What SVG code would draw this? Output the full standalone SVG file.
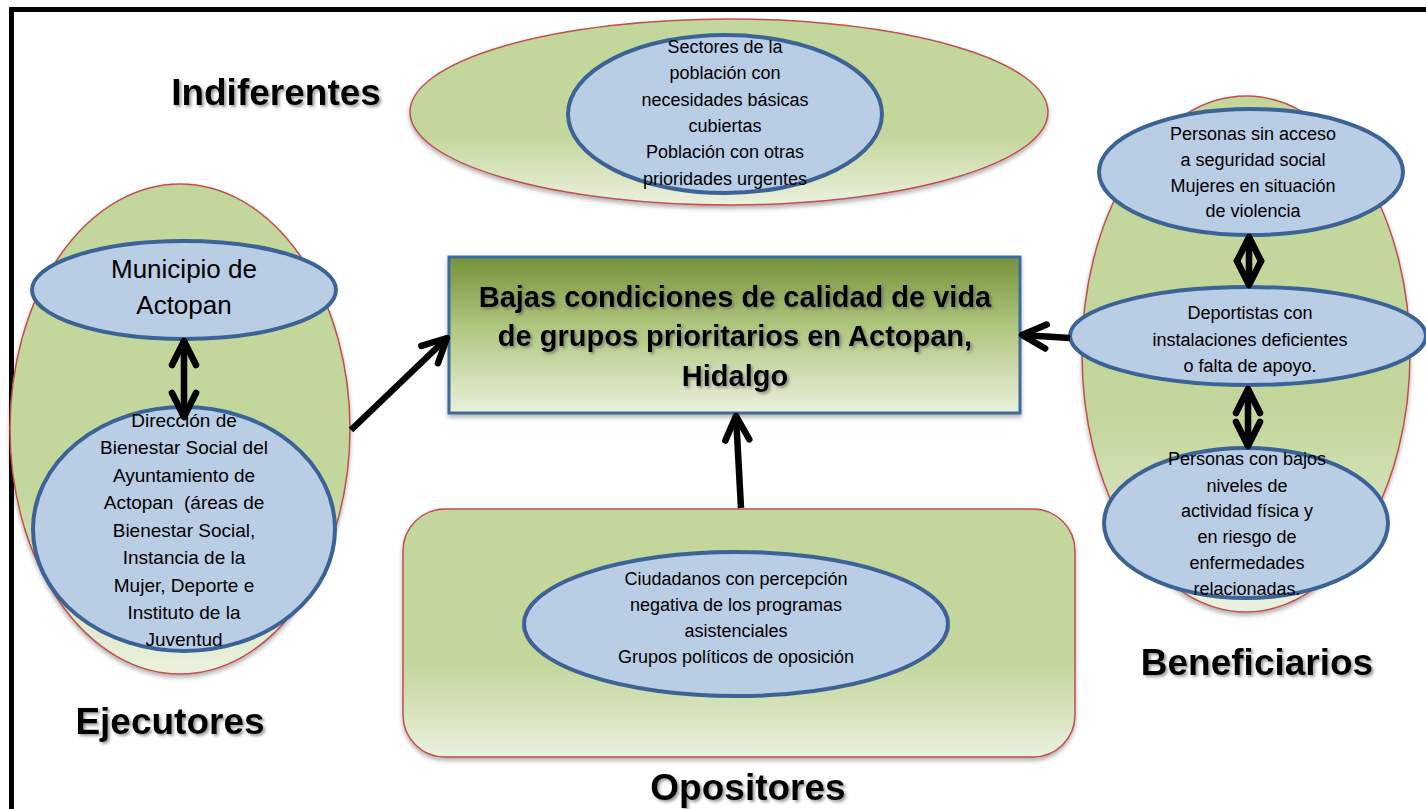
<svg xmlns="http://www.w3.org/2000/svg" width="1426" height="809" viewBox="0 0 1426 809">
<defs>
<linearGradient id="gGreen" x1="0" y1="0" x2="0" y2="1">
<stop offset="0" stop-color="#c3d69b"/>
<stop offset="0.62" stop-color="#c3d69b"/>
<stop offset="1" stop-color="#ebf1de"/>
</linearGradient>
<linearGradient id="gBox" x1="0" y1="0" x2="0" y2="1">
<stop offset="0" stop-color="#76923c"/>
<stop offset="0.45" stop-color="#afc67e"/>
<stop offset="1" stop-color="#ebf1de"/>
</linearGradient>
<filter id="shadow" x="-10%" y="-10%" width="120%" height="125%">
<feDropShadow dx="0" dy="3" stdDeviation="2" flood-color="#000" flood-opacity="0.3"/>
</filter>
<filter id="tshadow" x="-10%" y="-20%" width="120%" height="150%">
<feDropShadow dx="2" dy="2" stdDeviation="1.5" flood-color="#555" flood-opacity="0.6"/>
</filter>
<marker id="chev" viewBox="-30 -20 40 40" refX="0" refY="0" markerWidth="40" markerHeight="40" markerUnits="userSpaceOnUse" orient="auto-start-reverse" overflow="visible">
<path d="M-24,-12 L0,0 L-24,12" fill="none" stroke="#000" stroke-width="6.5" stroke-linecap="round" stroke-linejoin="round"/>
</marker>
</defs>
<style>
.outer{fill:url(#gGreen);stroke:#c0504d;stroke-width:1.5;filter:url(#shadow)}
.inner{fill:#b9cde5;stroke:#3b6395;stroke-width:4}
.t{font-family:"Liberation Sans",Arial,sans-serif;font-size:18px;fill:#000;text-anchor:middle}
.title{font-family:"Liberation Sans",Arial,sans-serif;font-size:37px;font-weight:bold;fill:#000;text-anchor:middle;filter:url(#tshadow)}
.main{font-family:"Liberation Sans",Arial,sans-serif;font-size:29px;font-weight:bold;fill:#000;text-anchor:middle;filter:url(#tshadow)}
.arr{fill:none;stroke:#000;stroke-width:6.5;stroke-linecap:butt}
</style>
<rect width="1426" height="809" fill="#fff"/>
<path d="M11.5,809 L11.5,9.5 L1426,9.5" fill="none" stroke="#000" stroke-width="5"/>

<g id="indiferentes">
<ellipse class="outer" cx="729" cy="112" rx="319" ry="93"/>
<ellipse class="inner" cx="725" cy="114" rx="157" ry="79"/>
<text class="t" x="725" y="53">Sectores de la</text>
<text class="t" x="725" y="79">población con</text>
<text class="t" x="725" y="106">necesidades básicas</text>
<text class="t" x="725" y="132">cubiertas</text>
<text class="t" x="725" y="158">Población con otras</text>
<text class="t" x="725" y="185">prioridades urgentes</text>
<text class="title" x="276" y="105">Indiferentes</text>
</g>

<g id="ejecutores">
<ellipse class="outer" cx="180" cy="429" rx="170" ry="245"/>
<ellipse class="inner" cx="184" cy="290" rx="152" ry="49"/>
<text class="t" x="184" y="278" style="font-size:26px">Municipio de</text>
<text class="t" x="184" y="314" style="font-size:26px">Actopan</text>
<ellipse class="inner" cx="184" cy="529" rx="151" ry="122"/>
<text class="t" x="184" y="427" style="font-size:19px">Dirección de</text>
<text class="t" x="184" y="454" style="font-size:19px">Bienestar Social del</text>
<text class="t" x="184" y="482" style="font-size:19px">Ayuntamiento de</text>
<text class="t" x="184" y="509" style="font-size:19px" xml:space="preserve">Actopan  (áreas de</text>
<text class="t" x="184" y="537" style="font-size:19px">Bienestar Social,</text>
<text class="t" x="184" y="564" style="font-size:19px">Instancia de la</text>
<text class="t" x="184" y="592" style="font-size:19px">Mujer, Deporte e</text>
<text class="t" x="184" y="619" style="font-size:19px">Instituto de la</text>
<text class="t" x="184" y="646" style="font-size:19px">Juventud</text>
<text class="title" x="170" y="734">Ejecutores</text>
</g>

<g id="problema">
<rect x="449" y="257" width="571" height="156" fill="url(#gBox)" stroke="#3e6a9c" stroke-width="3" filter="url(#shadow)"/>
<text class="main" x="735" y="307">Bajas condiciones de calidad de vida</text>
<text class="main" x="735" y="346">de grupos prioritarios en Actopan,</text>
<text class="main" x="735" y="386">Hidalgo</text>
</g>

<g id="opositores">
<rect class="outer" x="403" y="509" width="672" height="248" rx="42" ry="42"/>
<ellipse class="inner" cx="736" cy="624" rx="212" ry="72"/>
<text class="t" x="736" y="585">Ciudadanos con percepción</text>
<text class="t" x="736" y="611">negativa de los programas</text>
<text class="t" x="736" y="637">asistenciales</text>
<text class="t" x="736" y="663">Grupos políticos de oposición</text>
<text class="title" x="748" y="800">Opositores</text>
</g>

<g id="beneficiarios">
<ellipse class="outer" cx="1246" cy="354" rx="164" ry="258"/>
<ellipse class="inner" cx="1251" cy="172" rx="152" ry="63"/>
<text class="t" x="1253" y="140">Personas sin acceso</text>
<text class="t" x="1253" y="166">a seguridad social</text>
<text class="t" x="1253" y="192">Mujeres en situación</text>
<text class="t" x="1253" y="217">de violencia</text>
<ellipse class="inner" cx="1248" cy="336" rx="178" ry="49"/>
<text class="t" x="1250" y="319">Deportistas con</text>
<text class="t" x="1250" y="346">instalaciones deficientes</text>
<text class="t" x="1250" y="372">o falta de apoyo.</text>
<ellipse class="inner" cx="1246" cy="523" rx="142" ry="75"/>
<text class="t" x="1247" y="465">Personas con bajos</text>
<text class="t" x="1247" y="492">niveles de</text>
<text class="t" x="1247" y="517">actividad física y</text>
<text class="t" x="1247" y="543">en riesgo de</text>
<text class="t" x="1247" y="569">enfermedades</text>
<text class="t" x="1247" y="595">relacionadas.</text>
<text class="title" x="1257" y="675">Beneficiarios</text>
</g>

<g id="connectors">
<path class="arr" d="M184,341 L184,417" marker-start="url(#chev)" marker-end="url(#chev)"/>
<path class="arr" d="M351,430 L447,338" marker-end="url(#chev)"/>
<path class="arr" d="M741,508 L736,416" marker-end="url(#chev)"/>
<path class="arr" d="M1070,338 L1022,335" marker-end="url(#chev)"/>
<path class="arr" d="M1249,237 L1249,285" marker-start="url(#chev)" marker-end="url(#chev)"/>
<path class="arr" d="M1248,389 L1248,446" marker-start="url(#chev)" marker-end="url(#chev)"/>
</g>
</svg>
